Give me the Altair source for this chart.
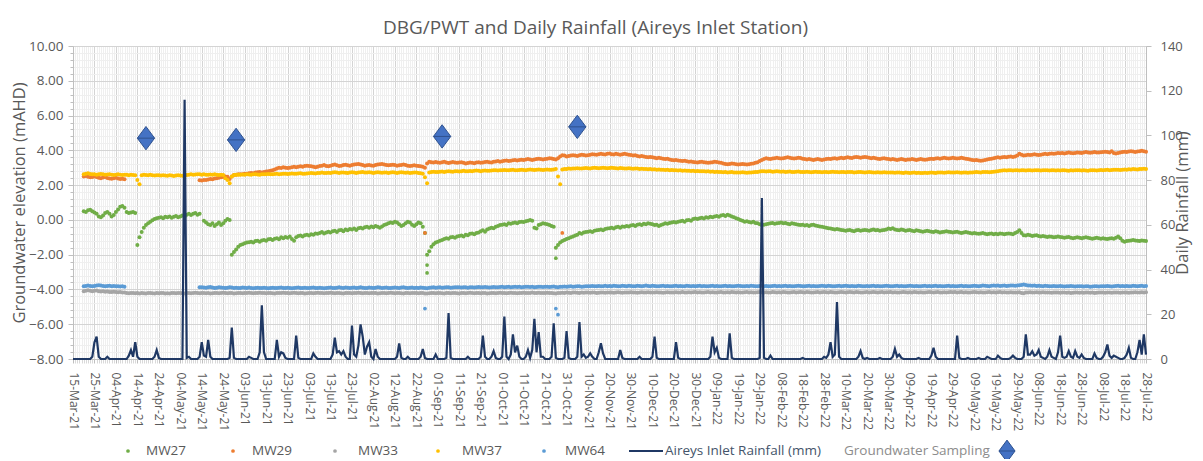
import altair as alt
import pandas as pd

START = "2021-03-15"
END = "2022-07-28"

series_names = ["MW27", "MW29", "MW33", "MW37", "MW64"]
series_colors = ["#70AD47", "#ED7D31", "#A5A5A5", "#FFC000", "#5B9BD5"]

# Daily groundwater elevations (mAHD), one row = 10 days starting at each axis tick
mw27 = [
    None, None, None, None, None, 0.50, 0.45, 0.55, 0.58, 0.50,
    0.42, 0.35, 0.20, 0.15, 0.25, 0.40, 0.45, 0.35, 0.20, 0.28,
    0.45, 0.60, 0.75, 0.80, 0.70, 0.45, 0.40, 0.42, 0.45, 0.40,
    -1.45, -1.00, -0.70, -0.45, -0.30, -0.20, -0.10, -0.02, 0.05, 0.10,
    0.12, 0.15, 0.10, 0.18, 0.15, 0.20, 0.12, 0.18, 0.22, 0.15,
    0.20, 0.25, 0.18, 0.30, 0.35, 0.28, 0.35, 0.40, 0.30, 0.35,
    None, -0.05, -0.15, -0.25, -0.30, -0.20, -0.35, -0.25, -0.15, -0.30,
    -0.20, -0.05, 0.05, 0.00, -2.00, -1.85, -1.70, -1.55, -1.45, -1.40,
    -1.35, -1.30, -1.28, -1.25, -1.30, -1.22, -1.20, -1.25, -1.18, -1.15,
    -1.20, -1.12, -1.10, -1.15, -1.08, -1.05, -1.12, -1.00, -1.05, -0.98,
    -1.02, -0.95, -1.10, -1.20, -1.00, -0.92, -0.90, -0.95, -0.88, -0.85,
    -0.90, -0.82, -0.85, -0.78, -0.80, -0.75, -0.70, -0.78, -0.72, -0.68,
    -0.72, -0.65, -0.62, -0.70, -0.60, -0.58, -0.65, -0.55, -0.60, -0.52,
    -0.55, -0.50, -0.58, -0.48, -0.45, -0.50, -0.42, -0.40, -0.45, -0.38,
    -0.42, -0.35, -0.40, -0.45, -0.38, -0.30, -0.25, -0.20, -0.15, -0.18,
    -0.10, -0.15, -0.25, -0.35, -0.30, -0.20, -0.10, -0.15, -0.28, -0.35,
    -0.25, -0.15, -0.20, -0.40, -0.75, -2.00, -1.80, -1.55, -1.40, -1.30,
    -1.25, -1.20, -1.15, -1.10, -1.05, -1.08, -1.00, -0.98, -1.02, -0.95,
    -0.92, -0.90, -0.95, -0.85, -0.88, -0.80, -0.78, -0.82, -0.75, -0.72,
    -0.65, -0.60, -0.68, -0.55, -0.50, -0.45, -0.48, -0.40, -0.35, -0.30,
    -0.28, -0.25, -0.30, -0.20, -0.22, -0.18, -0.15, -0.20, -0.12, -0.10,
    -0.12, -0.08, -0.05, 0.00, -0.05, -0.45, -0.50, -0.30, -0.25, -0.20,
    -0.22, -0.25, -0.30, -0.35, -0.40, -1.60, -1.45, -1.30, -1.22, -1.15,
    -1.10, -1.05, -1.00, -0.95, -0.90, -0.85, -0.75, -0.80, -0.72, -0.70,
    -0.68, -0.65, -0.70, -0.62, -0.60, -0.58, -0.55, -0.60, -0.52, -0.50,
    -0.48, -0.45, -0.50, -0.42, -0.40, -0.45, -0.38, -0.40, -0.35, -0.38,
    -0.32, -0.30, -0.35, -0.28, -0.25, -0.30, -0.22, -0.25, -0.20, -0.22,
    -0.25, -0.30, -0.28, -0.35, -0.30, -0.25, -0.20, -0.22, -0.18, -0.15,
    -0.12, -0.15, -0.10, -0.08, -0.05, -0.10, -0.02, 0.00, -0.05, 0.05,
    0.08, 0.05, 0.10, 0.12, 0.08, 0.15, 0.12, 0.18, 0.15, 0.20,
    0.22, 0.18, 0.25, 0.28, 0.22, 0.30, 0.25, 0.20, 0.15, 0.10,
    0.05, 0.00, -0.05, -0.10, -0.08, -0.12, -0.15, -0.10, -0.18, -0.20,
    -0.25, -0.30, -0.28, -0.25, -0.22, -0.20, -0.18, -0.22, -0.20, -0.18,
    -0.15, -0.20, -0.18, -0.22, -0.25, -0.20, -0.22, -0.25, -0.28, -0.30,
    -0.28, -0.32, -0.30, -0.35, -0.30, -0.28, -0.32, -0.35, -0.38, -0.40,
    -0.42, -0.45, -0.48, -0.50, -0.52, -0.55, -0.52, -0.55, -0.58, -0.60,
    -0.62, -0.60, -0.58, -0.62, -0.65, -0.60, -0.58, -0.62, -0.60, -0.58,
    -0.60, -0.62, -0.58, -0.55, -0.60, -0.58, -0.62, -0.60, -0.58, -0.55,
    -0.50, -0.52, -0.48, -0.55, -0.58, -0.60, -0.55, -0.58, -0.62, -0.60,
    -0.58, -0.62, -0.65, -0.60, -0.63, -0.65, -0.68, -0.65, -0.62, -0.65,
    -0.68, -0.70, -0.65, -0.68, -0.72, -0.70, -0.68, -0.65, -0.68, -0.70,
    -0.72, -0.70, -0.68, -0.72, -0.75, -0.72, -0.70, -0.73, -0.75, -0.78,
    -0.75, -0.78, -0.80, -0.78, -0.76, -0.80, -0.82, -0.80, -0.78, -0.82,
    -0.80, -0.82, -0.78, -0.80, -0.83, -0.80, -0.78, -0.80, -0.82, -0.75,
    -0.70, -0.60, -0.75, -0.88, -0.90, -0.85, -0.88, -0.92, -0.90, -0.88,
    -0.92, -0.95, -0.93, -0.95, -0.98, -0.95, -0.97, -1.00, -0.98, -0.95,
    -0.98, -1.00, -1.02, -1.00, -0.98, -1.02, -1.05, -1.03, -1.00, -1.02,
    -1.05, -1.03, -1.00, -1.02, -1.05, -1.08, -1.05, -1.03, -1.06, -1.08,
    -1.05, -1.08, -1.10, -1.07, -1.05, -1.08, -1.02, -0.95, -1.05, -1.20,
    -1.25, -1.22, -1.20, -1.18, -1.15, -1.18, -1.20, -1.22, -1.18, -1.20,
    -1.22,
]

mw29 = [
    None, None, None, None, None, 2.50, 2.52, 2.48, 2.45, 2.47,
    2.50, 2.46, 2.42, 2.40, 2.44, 2.46, 2.41, 2.38, 2.36, 2.40,
    2.42, 2.38, 2.35, 2.37, 2.34, None, None, None, None, None,
    None, None, None, None, None, None, None, None, None, None,
    None, None, None, None, None, None, None, None, None, None,
    None, None, None, None, None, None, None, None, None, 2.28,
    2.27, 2.30, 2.29, 2.32, 2.35, 2.33, 2.38, 2.40, 2.42, 2.45,
    2.47, 2.50, 2.48, 2.35, 2.50, 2.58, 2.60, 2.62, 2.63, 2.62,
    2.65, 2.66, 2.68, 2.70, 2.68, 2.72, 2.74, 2.75, 2.73, 2.76,
    2.78, 2.80, 2.82, 2.85, 2.90, 2.95, 3.00, 2.98, 3.02, 3.00,
    2.98, 3.00, 3.03, 3.05, 3.02, 3.06, 3.08, 3.05, 3.10, 3.12,
    3.10, 3.08, 3.05, 3.03, 3.06, 3.10, 3.12, 3.15, 3.10, 3.08,
    3.12, 3.15, 3.18, 3.14, 3.10, 3.12, 3.15, 3.17, 3.14, 3.12,
    3.15, 3.18, 3.20, 3.22, 3.18, 3.15, 3.12, 3.14, 3.16, 3.13,
    3.12, 3.15, 3.18, 3.20, 3.22, 3.18, 3.16, 3.14, 3.15, 3.17,
    3.15, 3.12, 3.14, 3.16, 3.18, 3.15, 3.12, 3.10, 3.12, 3.14,
    3.12, 3.10, 3.08, 3.05, 3.00, 3.25, 3.35, 3.32, 3.30, 3.33,
    3.30, 3.28, 3.32, 3.35, 3.30, 3.27, 3.30, 3.33, 3.30, 3.28,
    3.30, 3.32, 3.28, 3.25, 3.27, 3.30, 3.28, 3.26, 3.30, 3.32,
    3.28, 3.30, 3.33, 3.35, 3.32, 3.30, 3.34, 3.36, 3.38, 3.35,
    3.37, 3.40, 3.42, 3.38, 3.40, 3.43, 3.45, 3.42, 3.44, 3.46,
    3.45, 3.48, 3.50, 3.47, 3.45, 3.48, 3.50, 3.52, 3.50, 3.48,
    3.50, 3.52, 3.55, 3.53, 3.50, 3.48, 3.55, 3.65, 3.72, 3.70,
    3.65, 3.68, 3.70, 3.72, 3.70, 3.68, 3.72, 3.75, 3.73, 3.70,
    3.72, 3.75, 3.78, 3.76, 3.74, 3.77, 3.80, 3.78, 3.76, 3.80,
    3.82, 3.78, 3.76, 3.80, 3.78, 3.75, 3.77, 3.80, 3.78, 3.75,
    3.73, 3.70, 3.72, 3.68, 3.65, 3.67, 3.65, 3.62, 3.60, 3.62,
    3.60, 3.58, 3.55, 3.57, 3.55, 3.52, 3.50, 3.52, 3.48, 3.45,
    3.43, 3.45, 3.42, 3.40, 3.38, 3.40, 3.37, 3.35, 3.36, 3.33,
    3.32, 3.30, 3.33, 3.35, 3.32, 3.30, 3.28, 3.30, 3.32, 3.35,
    3.33, 3.30, 3.28, 3.25, 3.22, 3.20, 3.22, 3.25, 3.23, 3.20,
    3.18, 3.20, 3.22, 3.20, 3.18, 3.20, 3.23, 3.25, 3.28, 3.32,
    3.38, 3.45, 3.50, 3.55, 3.52, 3.50, 3.53, 3.55, 3.57, 3.55,
    3.53, 3.55, 3.58, 3.60, 3.57, 3.55, 3.53, 3.55, 3.58, 3.56,
    3.52, 3.50, 3.48, 3.50, 3.47, 3.45, 3.48, 3.50, 3.47, 3.45,
    3.47, 3.50, 3.52, 3.50, 3.53, 3.55, 3.52, 3.55, 3.57, 3.55,
    3.58, 3.60, 3.58, 3.56, 3.60, 3.62, 3.60, 3.58, 3.60, 3.62,
    3.60, 3.58, 3.55, 3.57, 3.55, 3.52, 3.50, 3.53, 3.55, 3.52,
    3.50, 3.48, 3.50, 3.47, 3.45, 3.48, 3.50, 3.47, 3.45, 3.47,
    3.48, 3.50, 3.47, 3.45, 3.47, 3.50, 3.48, 3.46, 3.48, 3.50,
    3.52, 3.50, 3.53, 3.55, 3.52, 3.55, 3.57, 3.55, 3.53, 3.55,
    3.57, 3.55, 3.53, 3.55, 3.58, 3.55, 3.52, 3.50, 3.47, 3.45,
    3.43, 3.45, 3.42, 3.40, 3.42, 3.45, 3.47, 3.50, 3.52, 3.55,
    3.57, 3.60, 3.58, 3.60, 3.62, 3.60, 3.63, 3.65, 3.62, 3.65,
    3.70, 3.80, 3.75, 3.70, 3.72, 3.75, 3.73, 3.75, 3.77, 3.75,
    3.73, 3.75, 3.78, 3.80, 3.78, 3.80, 3.82, 3.80, 3.82, 3.85,
    3.83, 3.85, 3.82, 3.85, 3.87, 3.85, 3.83, 3.85, 3.88, 3.86,
    3.85, 3.87, 3.90, 3.88, 3.86, 3.88, 3.90, 3.88, 3.87, 3.89,
    3.90, 3.92, 3.90, 3.88, 3.95, 3.85, 3.82, 3.85, 3.88, 3.90,
    3.92, 3.90, 3.93, 3.95, 3.93, 3.91, 3.93, 3.95, 3.97, 3.95,
    3.92,
]

mw33 = [
    None, None, None, None, None, -4.10, -4.08, -4.05, -4.07, -4.10,
    -4.08, -4.06, -4.10, -4.12, -4.10, -4.13, -4.12, -4.14, -4.15, -4.13,
    -4.15, -4.16, -4.15, -4.17, -4.18, -4.20, -4.22, -4.21, -4.20, -4.22,
    -4.21, -4.23, -4.20, -4.22, -4.24, -4.21, -4.20, -4.22, -4.23, -4.21,
    -4.22, -4.20, -4.21, -4.23, -4.22, -4.24, -4.21, -4.20, -4.22, -4.21,
    -4.20, -4.22, -4.23, -4.21, -4.20, -4.22, -4.21, -4.19, -4.21, -4.22,
    -4.21, -4.20, -4.22, -4.21, -4.23, -4.22, -4.20, -4.21, -4.22, -4.20,
    -4.19, -4.21, -4.22, -4.20, -4.21, -4.23, -4.22, -4.20, -4.21, -4.22,
    -4.20, -4.21, -4.19, -4.20, -4.22, -4.21, -4.20, -4.19, -4.21, -4.20,
    -4.22, -4.21, -4.20, -4.22, -4.23, -4.21, -4.20, -4.21, -4.19, -4.20,
    -4.21, -4.22, -4.20, -4.19, -4.21, -4.22, -4.20, -4.21, -4.23, -4.22,
    -4.20, -4.21, -4.22, -4.20, -4.19, -4.21, -4.20, -4.22, -4.21, -4.20,
    -4.19, -4.20, -4.22, -4.21, -4.20, -4.22, -4.23, -4.21, -4.20, -4.21,
    -4.22, -4.20, -4.21, -4.19, -4.20, -4.22, -4.21, -4.20, -4.22, -4.21,
    -4.20, -4.21, -4.23, -4.22, -4.20, -4.21, -4.22, -4.20, -4.19, -4.21,
    -4.22, -4.21, -4.20, -4.22, -4.23, -4.21, -4.20, -4.22, -4.21, -4.20,
    -4.21, -4.22, -4.20, -4.21, -4.23, -4.24, -4.22, -4.21, -4.20, -4.22,
    -4.21, -4.20, -4.22, -4.23, -4.21, -4.20, -4.22, -4.21, -4.20, -4.22,
    -4.23, -4.21, -4.20, -4.22, -4.21, -4.19, -4.21, -4.22, -4.20, -4.21,
    -4.22, -4.20, -4.21, -4.23, -4.22, -4.20, -4.21, -4.22, -4.20, -4.19,
    -4.20, -4.21, -4.22, -4.20, -4.19, -4.21, -4.20, -4.22, -4.21, -4.20,
    -4.19, -4.20, -4.21, -4.20, -4.18, -4.20, -4.21, -4.19, -4.20, -4.21,
    -4.20, -4.19, -4.21, -4.20, -4.22, -4.23, -4.21, -4.20, -4.19, -4.20,
    -4.18, -4.19, -4.20, -4.18, -4.17, -4.19, -4.20, -4.18, -4.19, -4.17,
    -4.18, -4.19, -4.17, -4.18, -4.20, -4.19, -4.17, -4.18, -4.19, -4.18,
    -4.17, -4.18, -4.19, -4.17, -4.16, -4.18, -4.19, -4.17, -4.18, -4.17,
    -4.16, -4.18, -4.17, -4.19, -4.18, -4.16, -4.17, -4.18, -4.16, -4.17,
    -4.18, -4.17, -4.16, -4.18, -4.17, -4.19, -4.18, -4.16, -4.17, -4.18,
    -4.17, -4.16, -4.18, -4.17, -4.15, -4.17, -4.18, -4.16, -4.17, -4.16,
    -4.15, -4.17, -4.16, -4.18, -4.17, -4.16, -4.15, -4.17, -4.16, -4.18,
    -4.17, -4.16, -4.15, -4.17, -4.18, -4.16, -4.17, -4.15, -4.16, -4.17,
    -4.16, -4.18, -4.17, -4.16, -4.15, -4.17, -4.16, -4.18, -4.17, -4.16,
    -4.15, -4.16, -4.17, -4.16, -4.18, -4.17, -4.15, -4.16, -4.17, -4.16,
    -4.17, -4.15, -4.16, -4.18, -4.17, -4.16, -4.15, -4.17, -4.16, -4.15,
    -4.16, -4.17, -4.15, -4.16, -4.18, -4.17, -4.16, -4.15, -4.17, -4.16,
    -4.15, -4.16, -4.17, -4.15, -4.16, -4.18, -4.17, -4.16, -4.15, -4.16,
    -4.17, -4.16, -4.15, -4.16, -4.17, -4.15, -4.16, -4.18, -4.17, -4.16,
    -4.15, -4.17, -4.16, -4.15, -4.16, -4.17, -4.16, -4.15, -4.17, -4.16,
    -4.16, -4.15, -4.17, -4.16, -4.18, -4.17, -4.16, -4.15, -4.16, -4.17,
    -4.16, -4.17, -4.15, -4.16, -4.17, -4.16, -4.18, -4.17, -4.16, -4.15,
    -4.16, -4.17, -4.16, -4.15, -4.17, -4.18, -4.16, -4.17, -4.16, -4.15,
    -4.16, -4.15, -4.17, -4.16, -4.15, -4.17, -4.16, -4.18, -4.17, -4.16,
    -4.15, -4.16, -4.17, -4.16, -4.18, -4.17, -4.16, -4.15, -4.17, -4.16,
    -4.17, -4.16, -4.15, -4.17, -4.16, -4.18, -4.17, -4.16, -4.17, -4.18,
    -4.17, -4.16, -4.20, -4.22, -4.18, -4.17, -4.16, -4.18, -4.17, -4.16,
    -4.17, -4.18, -4.16, -4.17, -4.18, -4.17, -4.19, -4.18, -4.17, -4.18,
    -4.19, -4.18, -4.17, -4.19, -4.18, -4.20, -4.19, -4.18, -4.17, -4.19,
    -4.18, -4.19, -4.17, -4.18, -4.19, -4.18, -4.20, -4.19, -4.18, -4.17,
    -4.18, -4.19, -4.18, -4.17, -4.19, -4.18, -4.17, -4.18, -4.19, -4.18,
    -4.17, -4.18, -4.19, -4.18, -4.17, -4.16, -4.18, -4.17, -4.16, -4.17,
    -4.16,
]

mw37 = [
    None, None, None, None, None, 2.62, 2.65, 2.68, 2.64, 2.62,
    2.63, 2.60, 2.62, 2.64, 2.62, 2.60, 2.61, 2.63, 2.60, 2.58,
    2.60, 2.62, 2.60, 2.58, 2.60, 2.59, 2.57, 2.60, 2.58, 2.56,
    2.30, 2.05, 2.57, 2.60, 2.58, 2.57, 2.59, 2.57, 2.55, 2.57,
    2.56, 2.55, 2.57, 2.55, 2.54, 2.56, 2.55, 2.53, 2.55, 2.56,
    2.55, 2.54, 2.56, 2.58, 2.60, 2.62, 2.60, 2.61, 2.63, 2.62,
    2.60, 2.62, 2.60, 2.59, 2.61, 2.60, 2.62, 2.60, 2.58, 2.60,
    2.58, 2.40, 2.30, 2.10, 2.50, 2.58, 2.60, 2.59, 2.60, 2.61,
    2.60, 2.62, 2.61, 2.60, 2.62, 2.63, 2.61, 2.60, 2.62, 2.63,
    2.62, 2.64, 2.63, 2.62, 2.64, 2.65, 2.63, 2.64, 2.66, 2.65,
    2.64, 2.65, 2.67, 2.66, 2.65, 2.67, 2.68, 2.66, 2.65, 2.67,
    2.68, 2.70, 2.68, 2.67, 2.69, 2.70, 2.72, 2.70, 2.69, 2.71,
    2.70, 2.72, 2.74, 2.72, 2.70, 2.72, 2.73, 2.71, 2.70, 2.72,
    2.74, 2.72, 2.70, 2.72, 2.74, 2.75, 2.73, 2.72, 2.74, 2.72,
    2.70, 2.72, 2.74, 2.72, 2.71, 2.73, 2.72, 2.70, 2.72, 2.74,
    2.72, 2.70, 2.72, 2.74, 2.73, 2.71, 2.72, 2.70, 2.71, 2.73,
    2.72, 2.70, 2.68, 2.66, 2.45, 2.10, 2.72, 2.75, 2.77, 2.76,
    2.75, 2.77, 2.78, 2.76, 2.78, 2.80, 2.78, 2.77, 2.79, 2.80,
    2.78, 2.80, 2.82, 2.80, 2.79, 2.81, 2.80, 2.82, 2.84, 2.82,
    2.80, 2.82, 2.84, 2.83, 2.82, 2.84, 2.86, 2.85, 2.84, 2.86,
    2.85, 2.87, 2.86, 2.85, 2.87, 2.88, 2.86, 2.85, 2.87, 2.88,
    2.87, 2.86, 2.88, 2.90, 2.88, 2.87, 2.89, 2.90, 2.88, 2.87,
    2.88, 2.90, 2.89, 2.88, 2.90, 2.92, 2.50, 2.05, 2.90, 2.92,
    2.93, 2.95, 2.94, 2.96, 2.95, 2.97, 2.96, 2.95, 2.97, 2.98,
    2.97, 2.96, 2.98, 3.00, 2.98, 2.97, 2.99, 3.00, 2.98, 2.97,
    2.98, 3.00, 2.98, 2.97, 2.96, 2.98, 2.97, 2.95, 2.96, 2.97,
    2.95, 2.94, 2.96, 2.95, 2.93, 2.94, 2.92, 2.93, 2.91, 2.92,
    2.90, 2.91, 2.89, 2.90, 2.88, 2.89, 2.87, 2.88, 2.86, 2.87,
    2.85, 2.86, 2.84, 2.85, 2.83, 2.84, 2.82, 2.83, 2.81, 2.82,
    2.80, 2.81, 2.80, 2.79, 2.80, 2.78, 2.79, 2.77, 2.78, 2.76,
    2.77, 2.75, 2.76, 2.74, 2.75, 2.73, 2.74, 2.75, 2.73, 2.72,
    2.73, 2.72, 2.74, 2.72, 2.71, 2.73, 2.72, 2.74, 2.75, 2.76,
    2.78, 2.80, 2.79, 2.78, 2.80, 2.79, 2.77, 2.78, 2.79, 2.78,
    2.77, 2.78, 2.76, 2.77, 2.78, 2.76, 2.75, 2.77, 2.78, 2.76,
    2.75, 2.76, 2.77, 2.75, 2.74, 2.76, 2.77, 2.76, 2.75, 2.74,
    2.75, 2.76, 2.74, 2.75, 2.77, 2.76, 2.75, 2.74, 2.76, 2.75,
    2.74, 2.75, 2.76, 2.75, 2.73, 2.74, 2.75, 2.76, 2.74, 2.73,
    2.74, 2.75, 2.74, 2.72, 2.73, 2.74, 2.73, 2.72, 2.74, 2.73,
    2.72, 2.73, 2.72, 2.71, 2.72, 2.73, 2.71, 2.70, 2.72, 2.71,
    2.70, 2.71, 2.72, 2.70, 2.71, 2.70, 2.69, 2.71, 2.70, 2.71,
    2.72, 2.71, 2.70, 2.72, 2.73, 2.72, 2.71, 2.72, 2.74, 2.73,
    2.72, 2.73, 2.74, 2.72, 2.71, 2.73, 2.72, 2.71, 2.72, 2.73,
    2.74, 2.75, 2.74, 2.73, 2.75, 2.76, 2.75, 2.74, 2.76, 2.77,
    2.78, 2.80, 2.82, 2.84, 2.85, 2.84, 2.86, 2.85, 2.84, 2.86,
    2.85, 2.84, 2.86, 2.85, 2.84, 2.86, 2.85, 2.84, 2.85, 2.86,
    2.85, 2.84, 2.85, 2.86, 2.85, 2.84, 2.86, 2.85, 2.84, 2.85,
    2.84, 2.85, 2.86, 2.84, 2.83, 2.85, 2.84, 2.85, 2.86, 2.85,
    2.84, 2.85, 2.84, 2.83, 2.85, 2.86, 2.85, 2.84, 2.86, 2.87,
    2.86, 2.87, 2.88, 2.86, 2.87, 2.88, 2.89, 2.88, 2.87, 2.89,
    2.90, 2.89, 2.91, 2.90, 2.92, 2.91, 2.90, 2.92, 2.93, 2.94,
    2.93,
]

mw64 = [
    None, None, None, None, None, -3.82, -3.80, -3.78, -3.80, -3.82,
    -3.80, -3.78, -3.76, -3.78, -3.80, -3.82, -3.80, -3.79, -3.81, -3.80,
    -3.82, -3.81, -3.83, -3.82, -3.84, None, None, None, None, None,
    None, None, None, None, None, None, None, None, None, None,
    None, None, None, None, None, None, None, None, None, None,
    None, None, None, None, None, None, None, None, None, -3.88,
    -3.87, -3.89, -3.90, -3.88, -3.86, -3.89, -3.91, -3.90, -3.88, -3.89,
    -3.90, -3.92, -3.90, -3.88, -3.89, -3.91, -3.90, -3.92, -3.91, -3.89,
    -3.90, -3.91, -3.89, -3.92, -3.93, -3.91, -3.90, -3.92, -3.91, -3.90,
    -3.91, -3.93, -3.92, -3.90, -3.91, -3.92, -3.90, -3.89, -3.91, -3.92,
    -3.90, -3.91, -3.93, -3.92, -3.90, -3.89, -3.91, -3.92, -3.90, -3.91,
    -3.92, -3.90, -3.89, -3.91, -3.92, -3.90, -3.91, -3.93, -3.91, -3.90,
    -3.89, -3.91, -3.92, -3.90, -3.88, -3.90, -3.91, -3.89, -3.90, -3.92,
    -3.90, -3.89, -3.91, -3.90, -3.88, -3.90, -3.92, -3.91, -3.89, -3.90,
    -3.91, -3.90, -3.88, -3.89, -3.91, -3.90, -3.89, -3.91, -3.92, -3.90,
    -3.89, -3.90, -3.91, -3.89, -3.88, -3.90, -3.91, -3.90, -3.89, -3.91,
    -3.90, -3.91, -3.89, -3.90, -3.92, -3.93, -3.90, -3.89, -3.88, -3.90,
    -3.89, -3.88, -3.90, -3.89, -3.87, -3.88, -3.90, -3.89, -3.88, -3.87,
    -3.88, -3.89, -3.87, -3.88, -3.90, -3.88, -3.87, -3.89, -3.88, -3.86,
    -3.87, -3.88, -3.86, -3.87, -3.89, -3.88, -3.86, -3.87, -3.88, -3.86,
    -3.85, -3.87, -3.86, -3.85, -3.87, -3.86, -3.84, -3.86, -3.85, -3.87,
    -3.86, -3.85, -3.84, -3.86, -3.85, -3.87, -3.86, -3.84, -3.85, -3.86,
    -3.84, -3.85, -3.86, -3.84, -3.83, -3.86, -3.87, -3.85, -3.84, -3.83,
    -3.84, -3.83, -3.82, -3.84, -3.83, -3.81, -3.82, -3.84, -3.83, -3.82,
    -3.81, -3.82, -3.80, -3.82, -3.81, -3.80, -3.82, -3.81, -3.79, -3.81,
    -3.80, -3.81, -3.79, -3.80, -3.82, -3.81, -3.79, -3.80, -3.81, -3.79,
    -3.80, -3.82, -3.81, -3.79, -3.80, -3.81, -3.80, -3.78, -3.80, -3.81,
    -3.79, -3.80, -3.82, -3.81, -3.80, -3.79, -3.81, -3.80, -3.82, -3.81,
    -3.80, -3.79, -3.81, -3.80, -3.82, -3.81, -3.79, -3.80, -3.81, -3.80,
    -3.81, -3.80, -3.79, -3.81, -3.80, -3.82, -3.81, -3.80, -3.79, -3.81,
    -3.80, -3.81, -3.82, -3.80, -3.79, -3.81, -3.80, -3.82, -3.81, -3.80,
    -3.79, -3.80, -3.81, -3.82, -3.80, -3.81, -3.79, -3.80, -3.81, -3.82,
    -3.80, -3.79, -3.81, -3.80, -3.82, -3.81, -3.80, -3.79, -3.81, -3.80,
    -3.81, -3.80, -3.79, -3.81, -3.80, -3.82, -3.81, -3.80, -3.79, -3.80,
    -3.81, -3.82, -3.80, -3.79, -3.81, -3.80, -3.82, -3.81, -3.80, -3.79,
    -3.80, -3.81, -3.79, -3.80, -3.82, -3.81, -3.80, -3.79, -3.81, -3.80,
    -3.79, -3.80, -3.81, -3.80, -3.82, -3.81, -3.79, -3.80, -3.81, -3.82,
    -3.80, -3.81, -3.80, -3.79, -3.81, -3.80, -3.82, -3.81, -3.80, -3.79,
    -3.80, -3.82, -3.81, -3.80, -3.79, -3.81, -3.80, -3.82, -3.81, -3.80,
    -3.79, -3.80, -3.81, -3.80, -3.82, -3.81, -3.80, -3.79, -3.81, -3.80,
    -3.81, -3.80, -3.79, -3.81, -3.80, -3.82, -3.81, -3.80, -3.79, -3.81,
    -3.80, -3.81, -3.82, -3.80, -3.79, -3.81, -3.80, -3.82, -3.81, -3.80,
    -3.79, -3.80, -3.81, -3.80, -3.78, -3.79, -3.80, -3.81, -3.79, -3.78,
    -3.79, -3.78, -3.80, -3.79, -3.78, -3.80, -3.79, -3.78, -3.77, -3.79,
    -3.78, -3.76, -3.74, -3.72, -3.75, -3.77, -3.78, -3.79, -3.78, -3.80,
    -3.79, -3.80, -3.81, -3.79, -3.80, -3.82, -3.81, -3.80, -3.82, -3.81,
    -3.80, -3.82, -3.83, -3.81, -3.82, -3.80, -3.81, -3.83, -3.82, -3.81,
    -3.82, -3.83, -3.81, -3.82, -3.84, -3.83, -3.82, -3.81, -3.83, -3.82,
    -3.81, -3.82, -3.80, -3.81, -3.83, -3.82, -3.80, -3.79, -3.81, -3.80,
    -3.81, -3.80, -3.82, -3.81, -3.79, -3.80, -3.81, -3.80, -3.79, -3.81,
    -3.80,
]

# Daily rainfall (mm), Aireys Inlet station
rain = [
    0, 0, 0, 0, 0, 0, 0, 0, 0, 1,
    7.5, 10, 1, 0, 0, 0, 1, 0, 0, 0,
    0, 0, 0, 0, 0, 0, 1.5, 4, 1, 7.5,
    1, 0, 0, 0, 0, 0, 0, 0, 1, 4,
    0.5, 0, 0, 0, 0, 0, 0, 0, 0, 0,
    0, 0, 116, 0.5, 1, 0, 0, 0, 0, 1,
    7.5, 1.5, 1, 8.5, 1, 0, 0, 0, 0, 0,
    0, 0, 0, 0.5, 14, 0.5, 0, 0, 0, 0,
    0, 0, 1, 0.5, 0, 0, 0, 3, 24, 3,
    0, 0, 0, 0, 0, 8.5, 1, 3, 2.5, 0.5,
    0, 0, 0, 0, 10.5, 0.5, 0, 0, 0, 0,
    0, 0, 2.5, 1, 0, 0, 0, 0, 0, 0,
    0, 2, 9.5, 3, 3.5, 2, 3.5, 1, 0, 0,
    15, 2, 1, 6, 15.5, 10, 2, 5.5, 7.5, 1,
    0, 4.5, 1, 0, 0, 0, 0, 0, 0, 0,
    0, 1, 7, 0.5, 0, 0, 1, 0, 0, 0,
    0, 0, 1, 4.5, 0.5, 0, 0, 0, 0, 2,
    0, 0, 0, 0, 0.5, 20.5, 0.5, 0, 0, 0,
    0, 0, 0, 0, 1, 0, 0, 0, 0, 0,
    1, 10.5, 1, 0, 0, 1, 3.5, 0.5, 0, 0,
    1, 19, 1, 0, 2, 11, 3, 6, 1, 0,
    0, 1, 4, 0.5, 4, 18, 3, 12, 1, 1,
    0, 0, 0, 1, 16, 0.5, 0, 0, 0, 0.5,
    12.5, 0.5, 0, 0, 0, 1, 16.5, 1, 2, 0.5,
    1, 2.5, 1, 0, 0, 3, 7, 2.5, 0, 0,
    0, 0, 0, 0, 0, 4, 0.5, 0, 0, 0,
    0, 0, 0, 0, 1, 0, 0, 0, 0, 0,
    1, 10, 0.5, 0, 0, 0, 0, 0, 0, 0,
    0, 7.5, 0.5, 0, 0, 0, 0, 0, 0, 0,
    0, 0, 0, 0, 0, 0, 0, 1, 10, 3,
    5, 0.5, 0, 0, 0, 0, 11.5, 0.5, 0, 0,
    0, 0, 0, 0, 0, 0, 0, 0, 0, 0,
    0.5, 72, 0.5, 0, 0, 1.5, 0, 0, 0, 0,
    0, 0, 0, 0, 0, 0, 0, 0, 0, 0,
    0.5, 0, 0, 0, 0, 0, 0, 0, 0, 0,
    1, 0.5, 2, 7.5, 1, 2, 25.5, 1, 0, 0,
    0, 0, 0, 0, 0, 0, 1, 3.5, 0.5, 0,
    0.5, 0, 0, 0, 0, 0, 0.5, 0, 0, 0,
    0, 0, 1, 4.5, 1, 2, 0.5, 0, 0, 0,
    0, 0, 0, 0, 0.5, 0, 0, 0, 0, 0,
    1.5, 5, 1, 0, 0, 0, 0, 0, 0, 0,
    0, 0, 10.5, 0.5, 0, 0, 0, 0.5, 0, 0,
    0, 0, 0.5, 0, 0, 0, 1, 0.5, 0, 0,
    0, 1.5, 0.5, 0, 0, 0, 0, 0.5, 1.5, 0.5,
    0, 0, 0, 1, 11, 2, 2, 3.5, 1.5, 2,
    4, 1, 0.5, 0, 1, 4, 1, 0.5, 0, 3,
    10.5, 1, 0.5, 1, 3.5, 1, 0.5, 3.5, 1, 0.5,
    2, 0.5, 0, 0, 0, 0, 2.5, 0.5, 0, 0,
    1, 3, 6.5, 1.5, 0.5, 1.5, 1, 0.5, 0, 0,
    0.5, 2, 5, 0.5, 0, 0, 3, 8.5, 2, 11,
    2,
]

# Extra readings taken at sampling events
outlier_series = ["MW27", "MW27", "MW27", "MW29", "MW29", "MW64", "MW64", "MW64"]
outlier_dates = ["2021-08-27", "2021-08-27", "2021-10-26", "2021-08-26", "2021-10-29",
                 "2021-08-26", "2021-10-26", "2021-10-27"]
outlier_values = [-2.60, -3.05, -2.20, -0.75, -0.75, -5.10, -5.10, -5.45]

# Groundwater sampling events
sampling_dates = ["2021-04-18", "2021-05-30", "2021-09-03", "2021-11-05"]
sampling_values = [4.70, 4.60, 4.80, 5.35]


def daily(values):
    return [d.strftime("%Y-%m-%d") for d in pd.date_range(START, periods=len(values), freq="D")]


rows = []
for name, vals in zip(series_names, [mw27, mw29, mw33, mw37, mw64]):
    for d, v in zip(daily(vals), vals):
        if v is not None:
            rows.append({"date": d, "series": name, "value": v})
gw_df = pd.DataFrame(rows)
out_df = pd.DataFrame({"date": outlier_dates, "series": outlier_series, "value": outlier_values})
rain_df = pd.DataFrame({"date": daily(rain), "rain": rain})
samp_df = pd.DataFrame({"date": sampling_dates, "value": sampling_values})

MS_DAY = 86400000
t0 = int(pd.Timestamp(START).timestamp() * 1000)
t1 = int(pd.Timestamp(END).timestamp() * 1000)
x_ticks = list(range(t0, t1 + 1, MS_DAY))

GREY_TXT = "#595959"
FONT = "Open Sans"
MAJOR_X = "round((datum.value - utc(2021,2,15)) / 86400000) % 10 == 0"
MAJOR_Y = "abs(datum.value / 2 - round(datum.value / 2)) < 0.001"

x_axis = alt.Axis(
    values=x_ticks,
    labelExpr=f"({MAJOR_X}) ? utcFormat(datum.value, '%d-%b-%y') : ''",
    labelAngle=90, labelAlign="left", labelBaseline="middle",
    labelOverlap=False, labelFlush=False, labelBound=False,
    labelFontSize=12, labelFont=FONT, labelColor=GREY_TXT, labelPadding=9,
    tickSize=4,
    tickColor={"condition": {"test": MAJOR_X, "value": "#bfbfbf"}, "value": "#d9d9d9"},
    gridColor={"condition": {"test": MAJOR_X, "value": "#d4d4d4"}, "value": "#efefef"},
    gridWidth=1, domainColor="#bfbfbf", title=None,
)
x_enc = alt.X("date:T", scale=alt.Scale(type="utc", domain=[t0, t1], nice=False), axis=x_axis)

y_vals = [round(-8 + 0.4 * i, 1) for i in range(46)]
y_axis = alt.Axis(
    values=y_vals,
    labelExpr=f"({MAJOR_Y}) ? format(datum.value, '.2f') : ''",
    labelFontSize=13.5, labelFont=FONT, labelColor=GREY_TXT, labelPadding=5,
    tickSize={"condition": {"test": MAJOR_Y, "value": 5}, "value": 3},
    tickColor="#bfbfbf",
    gridColor={"condition": {"test": MAJOR_Y, "value": "#d4d4d4"}, "value": "#efefef"},
    domainColor="#bfbfbf",
    title="Groundwater elevation (mAHD)", titleFont=FONT, titleFontSize=16.5,
    titleFontWeight="normal", titleColor=GREY_TXT, titlePadding=1,
)
y_scale = alt.Scale(domain=[-8, 10], nice=False, zero=False)

DIAMOND = "M0,-1.35L1,0L0,1.35L-1,0Z M-1,0L1,0"

points = alt.Chart(gw_df).mark_circle(size=16, opacity=1).encode(
    x=x_enc,
    y=alt.Y("value:Q", scale=y_scale, axis=y_axis),
    color=alt.Color("series:N", scale=alt.Scale(domain=series_names, range=series_colors), legend=None),
)
outliers = alt.Chart(out_df).mark_circle(size=14, opacity=1).encode(
    x=x_enc,
    y=alt.Y("value:Q", scale=y_scale, axis=y_axis),
    color=alt.Color("series:N", scale=alt.Scale(domain=series_names, range=series_colors), legend=None),
)
diamonds = alt.Chart(samp_df).mark_point(
    shape=DIAMOND, filled=True, fill="#4472C4", stroke="#2F528F", strokeWidth=1, size=300, opacity=1
).encode(
    x=x_enc,
    y=alt.Y("value:Q", scale=y_scale, axis=y_axis),
)
gw_layer = alt.layer(points, outliers, diamonds)

rain_line = alt.Chart(rain_df).mark_line(color="#1F3864", strokeWidth=2.2).encode(
    x=x_enc,
    y=alt.Y("rain:Q", scale=alt.Scale(domain=[0, 140], nice=False),
            axis=alt.Axis(orient="right", values=[0, 20, 40, 60, 80, 100, 120, 140], grid=False,
                          labelFontSize=13, labelFont=FONT, labelColor=GREY_TXT, labelPadding=9,
                          tickSize=5, tickColor="#bfbfbf", domainColor="#bfbfbf",
                          title="Daily Rainfall (mm)", titleAngle=270, titleFont=FONT,
                          titleFontSize=16.5, titleFontWeight="normal", titleColor=GREY_TXT,
                          titlePadding=8)),
)

# Legend (drawn manually to match the original arrangement)
LEG_Y = 405
dummy = pd.DataFrame({"k": [0]})
legend_layers = []
dot_x = [55, 160, 262, 365, 471]
txt_x = [73, 179, 285, 389, 492]
for name, col, dx, tx in zip(series_names, series_colors, dot_x, txt_x):
    legend_layers.append(
        alt.Chart(dummy).mark_circle(size=14, color=col, opacity=1).encode(
            x=alt.value(dx), y=alt.value(LEG_Y)))
    legend_layers.append(
        alt.Chart(dummy).mark_text(align="left", baseline="middle", fontSize=13.5, font=FONT,
                                   color=GREY_TXT).encode(
            x=alt.value(tx), y=alt.value(LEG_Y), text=alt.value(name)))
legend_layers.append(
    alt.Chart(dummy).mark_rule(color="#1F3864", strokeWidth=2.2).encode(
        x=alt.value(556), x2=alt.value(590), y=alt.value(LEG_Y)))
legend_layers.append(
    alt.Chart(dummy).mark_text(align="left", baseline="middle", fontSize=13.5, font=FONT,
                               color="#44546A").encode(
        x=alt.value(592), y=alt.value(LEG_Y), text=alt.value("Aireys Inlet Rainfall (mm)")))
legend_layers.append(
    alt.Chart(dummy).mark_text(align="left", baseline="middle", fontSize=13.5, font=FONT,
                               color="#8c8c8c").encode(
        x=alt.value(771), y=alt.value(LEG_Y), text=alt.value("Groundwater Sampling")))
legend_layers.append(
    alt.Chart(dummy).mark_point(shape=DIAMOND, filled=True, fill="#4472C4", stroke="#2F528F",
                                strokeWidth=1, size=260, opacity=1).encode(
        x=alt.value(934), y=alt.value(LEG_Y)))

chart = alt.layer(gw_layer, rain_line, *legend_layers).resolve_scale(
    y="independent"
).properties(
    width=1073,
    height=313,
    title=alt.TitleParams("DBG/PWT and Daily Rainfall (Aireys Inlet Station)", fontSize=19,
                          font=FONT, fontWeight="normal", color=GREY_TXT, anchor="middle",
                          dx=-14, offset=1),
    autosize=alt.AutoSizeParams(type="none"),
    padding={"left": 65, "top": 38, "right": 49, "bottom": 100},
).configure_view(stroke=None)

chart.save("out.html", embed_options={"renderer": "svg", "actions": False})
